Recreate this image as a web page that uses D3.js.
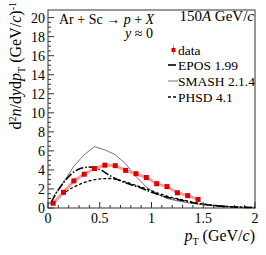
<!DOCTYPE html>
<html>
<head>
<meta charset="utf-8">
<script src="https://cdn.jsdelivr.net/npm/d3@7"></script>
<style>
  body { margin: 0; background: #fff; }
  text { font-family: "Liberation Serif", "DejaVu Serif", serif; fill: #000; }
</style>
</head>
<body>
<div id="chart"></div>
<script>
// Data
var dataPt  = [0.05, 0.15, 0.25, 0.35, 0.45, 0.55, 0.65, 0.75, 0.85, 0.95, 1.05, 1.15, 1.25, 1.35, 1.45];
var dataVal = [0.5, 1.65, 2.85, 3.55, 4.15, 4.5, 4.45, 3.95, 3.6, 3.2, 2.55, 2.25, 1.6, 1.3, 0.9];

var modelPt = [0.03, 0.1, 0.2, 0.3, 0.4, 0.5, 0.6, 0.7, 0.8, 0.9, 1.0, 1.1, 1.2, 1.3, 1.4, 1.5, 1.6, 1.7, 1.8, 1.9, 2.0];
var epos    = [0.6, 1.9, 3.3, 4.1, 4.3, 4.05, 3.4, 2.85, 2.45, 2.1, 1.65, 1.3, 1.0, 0.78, 0.55, 0.4, 0.26, 0.17, 0.11, 0.07, 0.04];
var phsd    = [0.3, 1.0, 1.9, 2.45, 2.85, 3.05, 3.1, 2.9, 2.55, 2.2, 1.8, 1.42, 1.1, 0.85, 0.6, 0.42, 0.28, 0.18, 0.12, 0.08, 0.05];

var smashPt = [0.05, 0.15, 0.25, 0.35, 0.45, 0.55, 0.65, 0.75, 0.85, 0.95, 1.05, 1.15, 1.25, 1.35, 1.45, 1.55, 1.65, 1.75, 1.85, 1.95];
var smash   = [1.2, 2.7, 4.4, 5.6, 6.45, 6.1, 5.6, 4.65, 3.3, 2.2, 1.5, 1.0, 0.75, 0.55, 0.4, 0.28, 0.18, 0.12, 0.08, 0.05];

var legendNames = ["data", "EPOS 1.99", "SMASH 2.1.4", "PHSD 4.1"];

// Parameters
var width = 266, height = 255,
    padL = 48, padR = 255, padT = 10, padB = 208;

var svg = d3.select("#chart").append("svg")
    .attr("width", width)
    .attr("height", height);

var x = d3.scaleLinear().domain([0, 2]).range([padL, padR]);
var y = d3.scaleLinear().domain([0, 20.8]).range([padB, padT]);

// Frame
svg.append("rect")
    .attr("x", padL).attr("y", padT)
    .attr("width", padR - padL).attr("height", padB - padT)
    .style("fill", "none")
    .style("stroke", "#333")
    .style("stroke-width", 1);

// Ticks x
var xMinor = d3.range(0, 2.001, 0.1);
svg.append("g").selectAll("line")
    .data(xMinor)
    .enter().append("line")
      .attr("x1", function(d) { return x(d); })
      .attr("x2", function(d) { return x(d); })
      .attr("y1", padB)
      .attr("y2", function(d, i) { return i % 5 === 0 ? padB - 6 : padB - 3; })
      .style("stroke", "#333");

svg.append("g").selectAll("text")
    .data([0, 0.5, 1, 1.5, 2])
    .enter().append("text")
      .attr("x", function(d) { return x(d); })
      .attr("y", padB + 15)
      .attr("text-anchor", "middle")
      .style("font-size", "14px")
      .text(function(d) { return d; });

// Ticks y
var yMinor = d3.range(0, 20.01, 0.5);
svg.append("g").selectAll("line")
    .data(yMinor)
    .enter().append("line")
      .attr("y1", function(d) { return y(d); })
      .attr("y2", function(d) { return y(d); })
      .attr("x1", padL)
      .attr("x2", function(d, i) { return i % 4 === 0 ? padL + 6 : padL + 3; })
      .style("stroke", "#333");

svg.append("g").selectAll("text")
    .data(d3.range(0, 21, 2))
    .enter().append("text")
      .attr("x", padL - 3)
      .attr("y", function(d) { return y(d) + 5; })
      .attr("text-anchor", "end")
      .style("font-size", "14px")
      .text(function(d) { return d; });

// Axis titles
var xt = svg.append("text")
    .attr("x", padR)
    .attr("y", 241)
    .attr("text-anchor", "end")
    .style("font-size", "16px");
xt.append("tspan").style("font-style", "italic").text("p");
xt.append("tspan").attr("dy", 4).style("font-size", "10px").text("T");
xt.append("tspan").attr("dy", -4).text(" (GeV/");
xt.append("tspan").style("font-style", "italic").text("c");
xt.append("tspan").text(")");

var yt = svg.append("text")
    .attr("transform", "translate(21,2) rotate(-90)")
    .attr("text-anchor", "end")
    .style("font-size", "16px");
yt.append("tspan").text("d");
yt.append("tspan").attr("dy", -5).style("font-size", "10px").text("2");
yt.append("tspan").attr("dy", 5).style("font-style", "italic").text("n");
yt.append("tspan").text("/d");
yt.append("tspan").style("font-style", "italic").text("y");
yt.append("tspan").text("d");
yt.append("tspan").style("font-style", "italic").text("p");
yt.append("tspan").attr("dy", 4).style("font-size", "10px").text("T");
yt.append("tspan").attr("dy", -4).text(" (GeV/");
yt.append("tspan").style("font-style", "italic").text("c");
yt.append("tspan").text(")");
yt.append("tspan").attr("dy", -5).style("font-size", "10px").text("-1");

// Lines
var line = d3.line()
    .x(function(d) { return x(d[0]); })
    .y(function(d) { return y(d[1]); });

svg.append("path")
    .datum(d3.zip(smashPt, smash))
    .attr("d", line)
    .style("fill", "none")
    .style("stroke", "#777")
    .style("stroke-width", 1);

svg.append("path")
    .datum(d3.zip(modelPt, phsd))
    .attr("d", line.curve(d3.curveMonotoneX))
    .style("fill", "none")
    .style("stroke", "#000")
    .style("stroke-width", 1.3)
    .style("stroke-dasharray", "3,2");

svg.append("path")
    .datum(d3.zip(modelPt, epos))
    .attr("d", line.curve(d3.curveMonotoneX))
    .style("fill", "none")
    .style("stroke", "#000")
    .style("stroke-width", 1.6)
    .style("stroke-dasharray", "8,2,1.5,2");

// Data band + points
svg.append("path")
    .datum(d3.zip(dataPt, dataVal))
    .attr("d", line.curve(d3.curveLinear))
    .style("fill", "none")
    .style("stroke", "#f4a0a0")
    .style("stroke-width", 3);

svg.append("g").selectAll("rect")
    .data(d3.zip(dataPt, dataVal))
    .enter().append("rect")
      .attr("x", function(d) { return x(d[0]) - 2.5; })
      .attr("y", function(d) { return y(d[1]) - 2.5; })
      .attr("width", 5).attr("height", 5)
      .style("fill", "#dd0000");

// Labels
var t1 = svg.append("text").attr("x", 59).attr("y", 24).style("font-size", "14px");
t1.append("tspan").text("Ar + Sc \u2192 ");
t1.append("tspan").style("font-style", "italic").text("p");
t1.append("tspan").text(" + ");
t1.append("tspan").style("font-style", "italic").text("X");

var t2 = svg.append("text").attr("x", 125).attr("y", 38).style("font-size", "14px");
t2.append("tspan").style("font-style", "italic").text("y");
t2.append("tspan").text(" \u2248 0");

var t3 = svg.append("text").attr("x", 254).attr("y", 21).attr("text-anchor", "end").style("font-size", "15px");
t3.append("tspan").text("150");
t3.append("tspan").style("font-style", "italic").text("A");
t3.append("tspan").text(" GeV/");
t3.append("tspan").style("font-style", "italic").text("c");

// Legend
var legY = [50, 65, 81, 97];
var legend = svg.selectAll(".legend")
    .data(legendNames)
    .enter().append("g")
    .attr("class", "legend")
    .attr("transform", function(d, i) { return "translate(0," + legY[i] + ")"; });

legend.append("text")
    .attr("x", 178)
    .attr("y", 4.5)
    .style("font-size", "13.5px")
    .text(function(d) { return d; });

var lg0 = d3.select(legend.nodes()[0]);
lg0.append("line").attr("x1", 173.5).attr("x2", 173.5).attr("y1", -5).attr("y2", 5)
    .style("stroke", "#f08080");
lg0.append("rect").attr("x", 171.5).attr("y", -2).attr("width", 4).attr("height", 4)
    .style("fill", "#dd0000");

var legStyles = [null,
  { stroke: "#000", w: 1.6, dash: "8,2,1.5,2" },
  { stroke: "#777", w: 1, dash: null },
  { stroke: "#000", w: 1.3, dash: "3,2" }];

legend.filter(function(d, i) { return i > 0; })
  .append("line")
    .attr("x1", 168).attr("x2", 178)
    .attr("y1", 0).attr("y2", 0)
    .style("stroke", function(d, i) { return legStyles[i + 1].stroke; })
    .style("stroke-width", function(d, i) { return legStyles[i + 1].w; })
    .style("stroke-dasharray", function(d, i) { return legStyles[i + 1].dash; });
</script>
</body>
</html>
